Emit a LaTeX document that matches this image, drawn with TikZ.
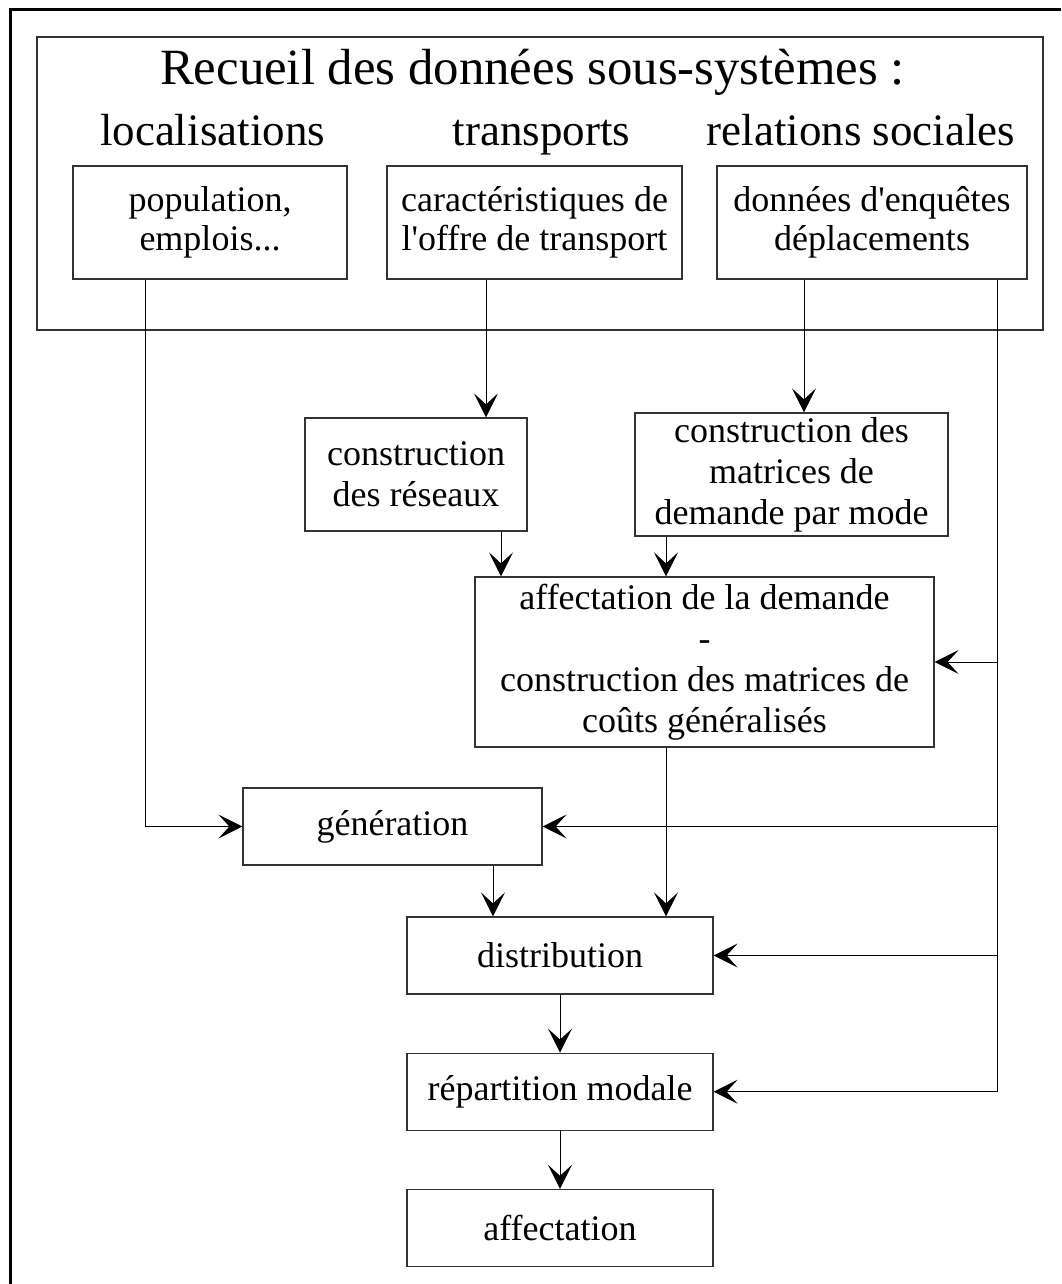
\documentclass[tikz,border=0pt]{standalone}
\usepackage{fontspec}
\setmainfont{Liberation Serif}[Ligatures=TeXOff]
\usetikzlibrary{positioning,arrows.meta,calc}

\begin{document}
\begin{tikzpicture}[
  x=0.5pt, y=-0.5pt,
  node distance=29pt,
  boite/.style={
    draw=black!80, line width=0.6pt, rectangle,
    inner sep=0pt, align=center,
    font=\fontsize{18}{20.5}\selectfont
  },
  boitehaut/.style={boite, font=\fontsize{18}{19.5}\selectfont},
  titre/.style={anchor=base, inner sep=0pt},
  fleche/.style={-{Stealth[length=12pt,width=12pt,inset=5.5pt]}, line width=0.5pt}
]

\useasboundingbox (0,0) rectangle (1061,1284);
\draw[line width=1.5pt] (10.5,1284) -- (10.5,9.5) -- (1061,9.5);

\node[boite, minimum width=503pt, minimum height=146.5pt] (recueil) at (540,183.5) {};

\node[titre, font=\fontsize{25.4}{30}\selectfont] (titre) at (532.5,84) {Recueil des données sous-systèmes :};
\node[titre, font=\fontsize{22.5}{27}\selectfont] (loc) at (212.5,145) {localisations};
\node[titre, font=\fontsize{22.5}{27}\selectfont] (trans) at (541.5,145) {transports};
\node[titre, font=\fontsize{22.5}{27}\selectfont] (rel) at (861,145) {relations sociales};

\node[boitehaut, minimum width=137pt, minimum height=56.5pt] (pop) at (210,222.5) {population,\\emplois...};
\node[boitehaut, minimum width=147.5pt, minimum height=56.5pt] (carac) at (534.5,222.5) {caractéristiques de\\l'offre de transport};
\node[boitehaut, minimum width=155pt, minimum height=56.5pt] (donnees) at (872,222.5) {données d'enquêtes\\déplacements};

\node[boite, minimum width=111pt, minimum height=56.5pt] (reseaux) at (416,474.5) {construction\\des réseaux};
\node[boite, minimum width=156.5pt, minimum height=61.5pt] (matrices) at (791.5,474.5) {construction des\\matrices de\\demande par mode};

\node[boite, minimum width=229.5pt, minimum height=85pt] (affect) at (704.5,662) {affectation de la demande\\-\\construction des matrices de\\coûts généralisés};

\node[boite, minimum width=149.5pt, minimum height=38.5pt] (gen) at (392.5,826.5) {génération};

\node[boite, minimum width=153pt, minimum height=38.5pt] (distrib) at (560,955.5) {distribution};
\node[boite, minimum width=153pt, minimum height=38.5pt] (repart) [below=of distrib] {répartition modale};
\node[boite, minimum width=153pt, minimum height=38.5pt] (affec) [below=of repart] {affectation};

\coordinate (bus) at ([xshift=62.5pt]donnees.south);

\draw[fleche] ([xshift=-32.5pt]pop.south) |- (gen.west);
\draw[fleche] ([xshift=-24.25pt]carac.south) -- ([xshift=-24.25pt]carac.south |- reseaux.north);
\draw[fleche] ([xshift=-34pt]donnees.south) -- ([xshift=-34pt]donnees.south |- matrices.north);
\draw[fleche] ([xshift=42.5pt]reseaux.south) -- ([xshift=42.5pt]reseaux.south |- affect.north);
\draw[fleche] ([xshift=-62.75pt]matrices.south) -- ([xshift=-62.75pt]matrices.south |- affect.north);
\draw[fleche] ([xshift=-19.25pt]affect.south) -- ([xshift=-19.25pt]affect.south |- distrib.north);
\draw[fleche] ([xshift=50.25pt]gen.south) -- ([xshift=50.25pt]gen.south |- distrib.north);
\draw[fleche] (distrib) -- (repart);
\draw[fleche] (repart) -- (affec);

\draw[fleche] (bus) |- (repart.east);
\draw[fleche] (bus |- affect.east) -- (affect.east);
\draw[fleche] (bus |- gen.east) -- (gen.east);
\draw[fleche] (bus |- distrib.east) -- (distrib.east);

\end{tikzpicture}
\end{document}
